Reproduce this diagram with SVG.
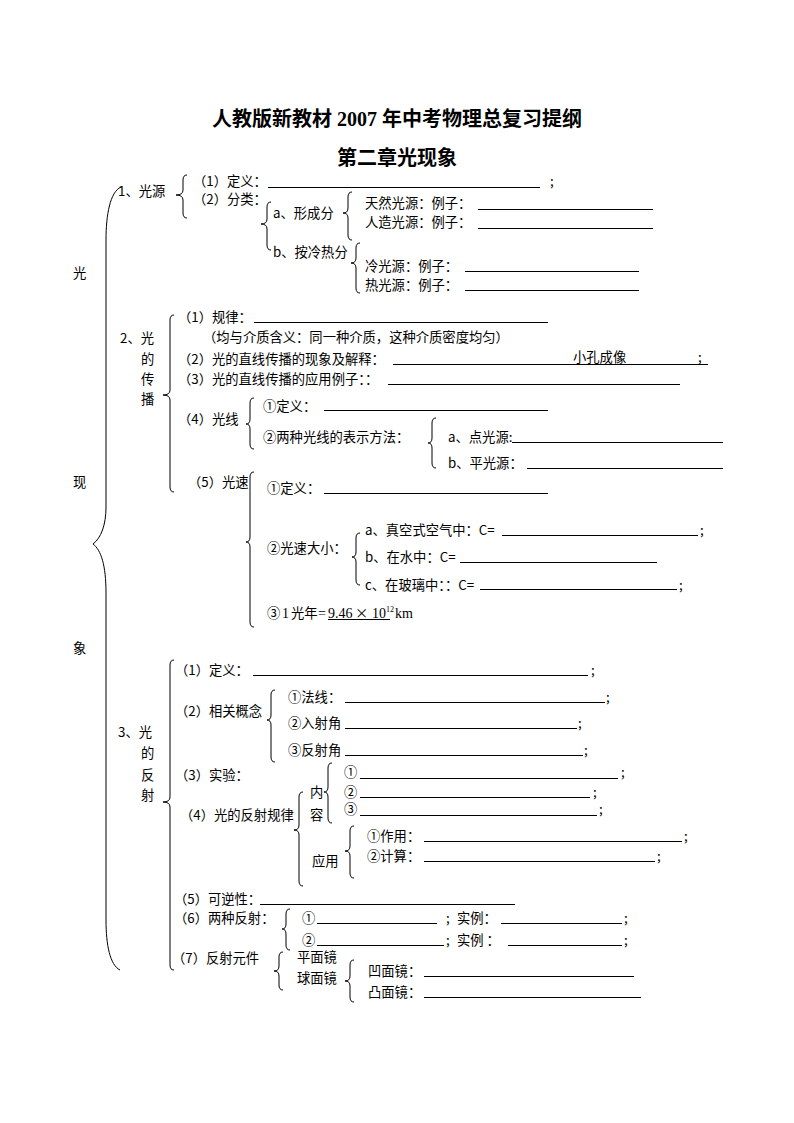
<svg xmlns="http://www.w3.org/2000/svg" width="794" height="1123" viewBox="0 0 794 1123">
<style>
.t{font-family:"Noto Sans CJK SC","Noto Sans CJK TC",sans-serif;font-size:13.3px;fill:#000}
.h{font-family:"Liberation Serif","Noto Sans CJK SC",serif;font-size:20px;font-weight:bold;fill:#000}
.s{font-family:"Liberation Serif","Noto Sans CJK SC",serif;font-size:14px;fill:#000}
.sup{font-family:"Liberation Serif",serif;font-size:8px;fill:#000}
.u{stroke:#000;stroke-width:1;fill:none}
.b{stroke:#000;stroke-width:1;fill:none}
</style>
<rect width="794" height="1123" fill="#fff"/>
<g id="title">
<text class="h" x="397" y="126" text-anchor="middle">人教版新教材 2007 年中考物理总复习提纲</text>
<text class="h" x="397" y="165" text-anchor="middle">第二章光现象</text>
</g>
<g id="root">
<text class="t" x="73" y="278">光</text>
<text class="t" x="73" y="487">现</text>
<text class="t" x="73" y="653">象</text>
</g>
<g id="connectors">
<path class="b" d="M121,187 C110,192 106,215 106,240 L106,507 C106,525 101,538 93,544 C101,550 106,565 106,593 L106,920 C106,945 110,965 120,970"/>
<path class="b" d="M187,175 Q183,175 183,180 L183,190 Q183,195 176,195 Q183,195 183,200 L183,213 Q183,218 187,218"/>
<path class="b" d="M271,202 Q267,202 267,207 L267,219 Q267,224 261,224 Q267,224 267,229 L267,245 Q267,250 271,250"/>
<path class="b" d="M352,192 Q348,192 348,197 L348,208 Q348,213 343,213 Q348,213 348,218 L348,235 Q348,240 352,240"/>
<path class="b" d="M360,243 Q356,243 356,248 L356,258 Q356,263 351,263 Q356,263 356,268 L356,288 Q356,293 360,293"/>
<path class="b" d="M174,315 Q170,315 170,320 L170,390 Q170,395 163,395 Q170,395 170,400 L170,487 Q170,492 174,492"/>
<path class="b" d="M254,398 Q250,398 250,403 L250,419 Q250,424 246,424 Q250,424 250,429 L250,444 Q250,449 254,449"/>
<path class="b" d="M436,418 Q432,418 432,423 L432,438 Q432,443 428,443 Q432,443 432,448 L432,463 Q432,468 436,468"/>
<path class="b" d="M254,472 Q250,472 250,477 L250,537 Q250,542 246,542 Q250,542 250,547 L250,622 Q250,627 254,627"/>
<path class="b" d="M360,533 Q356,533 356,538 L356,552 Q356,557 352,557 Q356,557 356,562 L356,580 Q356,585 360,585"/>
<path class="b" d="M174,660 Q170,660 170,665 L170,797 Q170,802 163,802 Q170,802 170,807 L170,965 Q170,970 174,970"/>
<path class="b" d="M275,690 Q271,690 271,695 L271,715 Q271,720 267,720 Q271,720 271,725 L271,757 Q271,762 275,762"/>
<path class="b" d="M303,792 Q299,792 299,797 L299,825 Q299,830 294,830 Q299,830 299,835 L299,881 Q299,886 303,886"/>
<path class="b" d="M332,763 Q328,763 328,768 L328,787 Q328,792 324,792 Q328,792 328,797 L328,818 Q328,823 332,823"/>
<path class="b" d="M354,826 Q350,826 350,831 L350,846 Q350,851 345,851 Q350,851 350,856 L350,873 Q350,878 354,878"/>
<path class="b" d="M290,909 Q286,909 286,914 L286,924 Q286,929 282,929 Q286,929 286,934 L286,945 Q286,950 290,950"/>
<path class="b" d="M283,952 Q279,952 279,957 L279,966 Q279,971 274,971 Q279,971 279,976 L279,985 Q279,990 283,990"/>
<path class="b" d="M354,960 Q350,960 350,965 L350,976 Q350,981 345,981 Q350,981 350,986 L350,997 Q350,1002 354,1002"/>
</g>
<g id="sec1">
<text class="t" x="118" y="196">1、光源</text>
<text class="t" x="193" y="186">（1）定义：</text>
<line class="u" x1="268" y1="187.5" x2="540" y2="187.5"/>
<text class="t" x="550" y="186">;</text>
<text class="t" x="193" y="204">（2）分类：</text>
<text class="t" x="273" y="218">a、形成分</text>
<text class="t" x="273" y="257">b、按冷热分</text>
<text class="t" x="365" y="208">天然光源：例子：</text>
<line class="u" x1="478" y1="209.5" x2="653" y2="209.5"/>
<text class="t" x="365" y="227">人造光源：例子：</text>
<line class="u" x1="478" y1="228.5" x2="653" y2="228.5"/>
<text class="t" x="365" y="271">冷光源：例子：</text>
<line class="u" x1="465" y1="271.5" x2="639" y2="271.5"/>
<text class="t" x="365" y="290">热光源：例子：</text>
<line class="u" x1="465" y1="290.5" x2="639" y2="290.5"/>
</g>
<g id="sec2">
<text class="t" x="120" y="343">2、光</text>
<text class="t" x="141" y="364">的</text>
<text class="t" x="141" y="384">传</text>
<text class="t" x="141" y="404">播</text>
<text class="t" x="178" y="322">（1）规律：</text>
<line class="u" x1="254" y1="322.5" x2="548" y2="322.5"/>
<text class="t" x="203" y="342">（均与介质含义：同一种介质，这种介质密度均匀）</text>
<text class="t" x="178" y="364">（2）光的直线传播的现象及解释：</text>
<line class="u" x1="393" y1="364.5" x2="708" y2="364.5"/>
<text class="t" x="573" y="362">小孔成像</text>
<text class="t" x="698" y="362">;</text>
<text class="t" x="178" y="384">（3）光的直线传播的应用例子：：</text>
<line class="u" x1="388" y1="384.5" x2="680" y2="384.5"/>
<text class="t" x="178" y="424">（4）光线</text>
<text class="t" x="263" y="411">①定义：</text>
<line class="u" x1="324" y1="410.5" x2="548" y2="410.5"/>
<text class="t" x="263" y="442">②两种光线的表示方法：</text>
<text class="t" x="448" y="442">a、点光源:</text>
<line class="u" x1="512" y1="442.5" x2="723" y2="442.5"/>
<text class="t" x="448" y="468">b、平光源：</text>
<line class="u" x1="527" y1="468.5" x2="723" y2="468.5"/>
<text class="t" x="188" y="487">（5）光速</text>
<text class="t" x="267" y="493">①定义：</text>
<line class="u" x1="324" y1="493.5" x2="548" y2="493.5"/>
<text class="t" x="267" y="553">②光速大小：</text>
<text class="t" x="365" y="535">a、真空式空气中：C=</text>
<line class="u" x1="502" y1="535.5" x2="698" y2="535.5"/>
<text class="t" x="700" y="535">;</text>
<text class="t" x="365" y="562">b、在水中：C=</text>
<line class="u" x1="460" y1="562.5" x2="657" y2="562.5"/>
<text class="t" x="365" y="590">c、在玻璃中：：C=</text>
<line class="u" x1="480" y1="589.5" x2="677" y2="589.5"/>
<text class="t" x="679" y="590">;</text>
<text class="t" x="267" y="618">③</text>
<text class="s" x="282" y="618">1</text>
<text class="t" x="291" y="618">光年</text>
<text class="s" x="318" y="618">=</text>
<text class="s" x="328" y="618">9.46</text>
<text class="t" x="355" y="618">×</text>
<text class="s" x="372" y="618">10</text>
<text class="sup" x="386" y="612">12</text>
<text class="s" x="395" y="618">km</text>
<line class="u" x1="328" y1="619.5" x2="390" y2="619.5"/>
</g>
<g id="sec3">
<text class="t" x="118" y="737">3、光</text>
<text class="t" x="141" y="758">的</text>
<text class="t" x="141" y="780">反</text>
<text class="t" x="141" y="800">射</text>
<text class="t" x="175" y="675">（1）定义：</text>
<line class="u" x1="253" y1="675.5" x2="588" y2="675.5"/>
<text class="t" x="591" y="675">;</text>
<text class="t" x="175" y="716">（2）相关概念</text>
<text class="t" x="288" y="702">①法线：</text>
<line class="u" x1="345" y1="702.5" x2="605" y2="702.5"/>
<text class="t" x="606" y="702">;</text>
<text class="t" x="288" y="728">②入射角</text>
<line class="u" x1="345" y1="728.5" x2="577" y2="728.5"/>
<text class="t" x="578" y="728">;</text>
<text class="t" x="288" y="755">③反射角</text>
<line class="u" x1="345" y1="755.5" x2="583" y2="755.5"/>
<text class="t" x="584" y="755">;</text>
<text class="t" x="175" y="780">（3）实验：</text>
<text class="t" x="180" y="820">（4）光的反射规律</text>
<text class="t" x="310" y="797">内</text>
<text class="t" x="310" y="820">容</text>
<text class="t" x="344" y="777">①</text>
<line class="u" x1="360" y1="778.5" x2="618" y2="778.5"/>
<text class="t" x="621" y="777">;</text>
<text class="t" x="344" y="797">②</text>
<line class="u" x1="360" y1="797.5" x2="590" y2="797.5"/>
<text class="t" x="593" y="797">;</text>
<text class="t" x="344" y="814">③</text>
<line class="u" x1="360" y1="815.5" x2="597" y2="815.5"/>
<text class="t" x="599" y="814">;</text>
<text class="t" x="312" y="866">应用</text>
<text class="t" x="367" y="841">①作用：</text>
<line class="u" x1="424" y1="841.5" x2="682" y2="841.5"/>
<text class="t" x="684" y="841">;</text>
<text class="t" x="367" y="861">②计算：</text>
<line class="u" x1="424" y1="861.5" x2="655" y2="861.5"/>
<text class="t" x="657" y="861">;</text>
<text class="t" x="174" y="904">（5）可逆性：</text>
<line class="u" x1="260" y1="904.5" x2="515" y2="904.5"/>
<text class="t" x="174" y="923">（6）两种反射：</text>
<text class="t" x="302" y="923">①</text>
<line class="u" x1="317" y1="923.5" x2="437" y2="923.5"/>
<text class="t" x="446" y="923">;</text>
<text class="t" x="457" y="923">实例：</text>
<line class="u" x1="501" y1="923.5" x2="622" y2="923.5"/>
<text class="t" x="624" y="923">;</text>
<text class="t" x="302" y="945">②</text>
<line class="u" x1="317" y1="945.5" x2="444" y2="945.5"/>
<text class="t" x="446" y="945">;</text>
<text class="t" x="457" y="945">实例 ：</text>
<line class="u" x1="508" y1="945.5" x2="622" y2="945.5"/>
<text class="t" x="624" y="945">;</text>
<text class="t" x="172" y="963">（7）反射元件</text>
<text class="t" x="297" y="962">平面镜</text>
<text class="t" x="297" y="983">球面镜</text>
<text class="t" x="368" y="976">凹面镜：</text>
<line class="u" x1="424" y1="976.5" x2="634" y2="976.5"/>
<text class="t" x="368" y="997">凸面镜：</text>
<line class="u" x1="424" y1="997.5" x2="641" y2="997.5"/>
</g>
</svg>
